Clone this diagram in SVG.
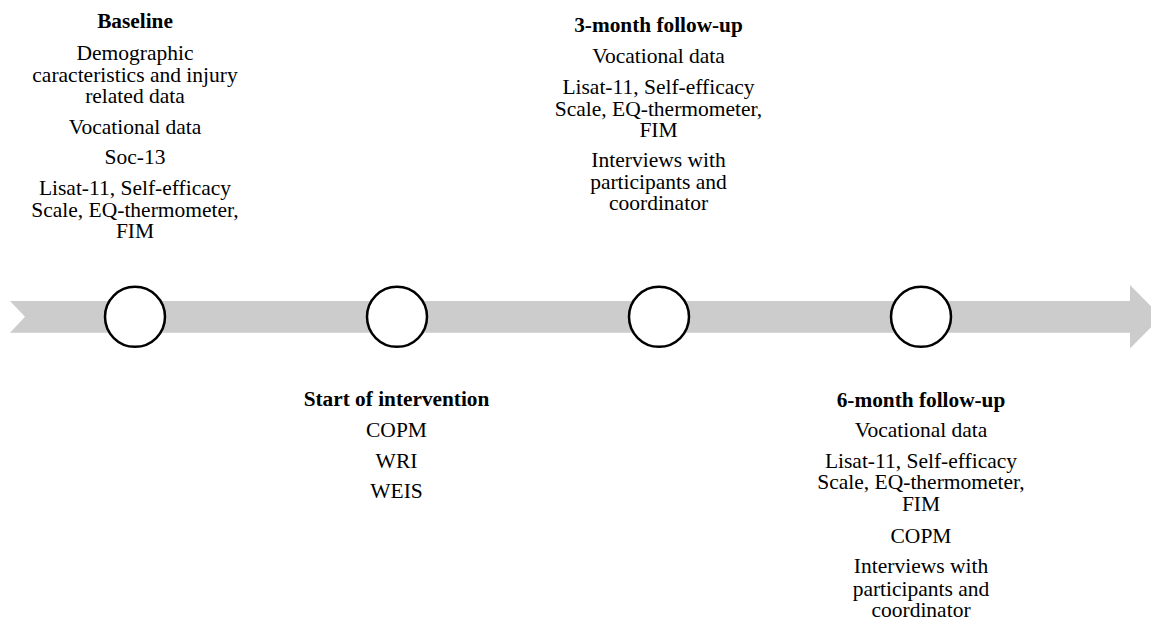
<svg xmlns="http://www.w3.org/2000/svg" width="1151" height="620" viewBox="0 0 1151 620">
<style>
.t{font-family:'Liberation Serif','Times New Roman',serif;font-size:21.5px;fill:#000;text-anchor:middle}
.b{font-weight:bold;font-size:21.3px}
.c{fill:#fff;stroke:#000;stroke-width:2.5}
</style>
<rect width="1151" height="620" fill="#fff"/>
<g id="connectors">
<path d="M10,301 L1130,301 L1130,285 L1161.5,316.8 L1130,348.5 L1130,332.7 L10,332.7 L25,316.8 Z" fill="#cccccc"/>
</g>
<g id="baseline">
<circle class="c" cx="135" cy="316.8" r="30"/>
<text class="t b" x="135" y="28">Baseline</text>
<text class="t" x="135" y="60">Demographic</text>
<text class="t" x="135" y="81.5">caracteristics and injury</text>
<text class="t" x="135" y="102.5">related data</text>
<text class="t" x="135" y="133.5">Vocational data</text>
<text class="t" x="135" y="164">Soc-13</text>
<text class="t" x="135" y="195">Lisat-11, Self-efficacy</text>
<text class="t" x="135" y="216.5">Scale, EQ-thermometer,</text>
<text class="t" x="135" y="238">FIM</text>
</g>
<g id="start">
<circle class="c" cx="397" cy="316.8" r="30"/>
<text class="t b" x="396.5" y="406">Start of intervention</text>
<text class="t" x="396.5" y="437">COPM</text>
<text class="t" x="396.5" y="467.5">WRI</text>
<text class="t" x="396.5" y="497.5">WEIS</text>
</g>
<g id="month3">
<circle class="c" cx="659" cy="316.8" r="30"/>
<text class="t b" x="658.5" y="32">3-month follow-up</text>
<text class="t" x="658.5" y="63">Vocational data</text>
<text class="t" x="658.5" y="94.3">Lisat-11, Self-efficacy</text>
<text class="t" x="658.5" y="115.8">Scale, EQ-thermometer,</text>
<text class="t" x="658.5" y="137.3">FIM</text>
<text class="t" x="658.5" y="167">Interviews with</text>
<text class="t" x="658.5" y="188.5">participants and</text>
<text class="t" x="658.5" y="210">coordinator</text>
</g>
<g id="month6">
<circle class="c" cx="921" cy="316.8" r="30"/>
<text class="t b" x="921" y="406.7">6-month follow-up</text>
<text class="t" x="921" y="437.3">Vocational data</text>
<text class="t" x="921" y="467.5">Lisat-11, Self-efficacy</text>
<text class="t" x="921" y="489.2">Scale, EQ-thermometer,</text>
<text class="t" x="921" y="510.7">FIM</text>
<text class="t" x="921" y="543">COPM</text>
<text class="t" x="921" y="573.3">Interviews with</text>
<text class="t" x="921" y="595.5">participants and</text>
<text class="t" x="921" y="617.2">coordinator</text>
</g>
</svg>
